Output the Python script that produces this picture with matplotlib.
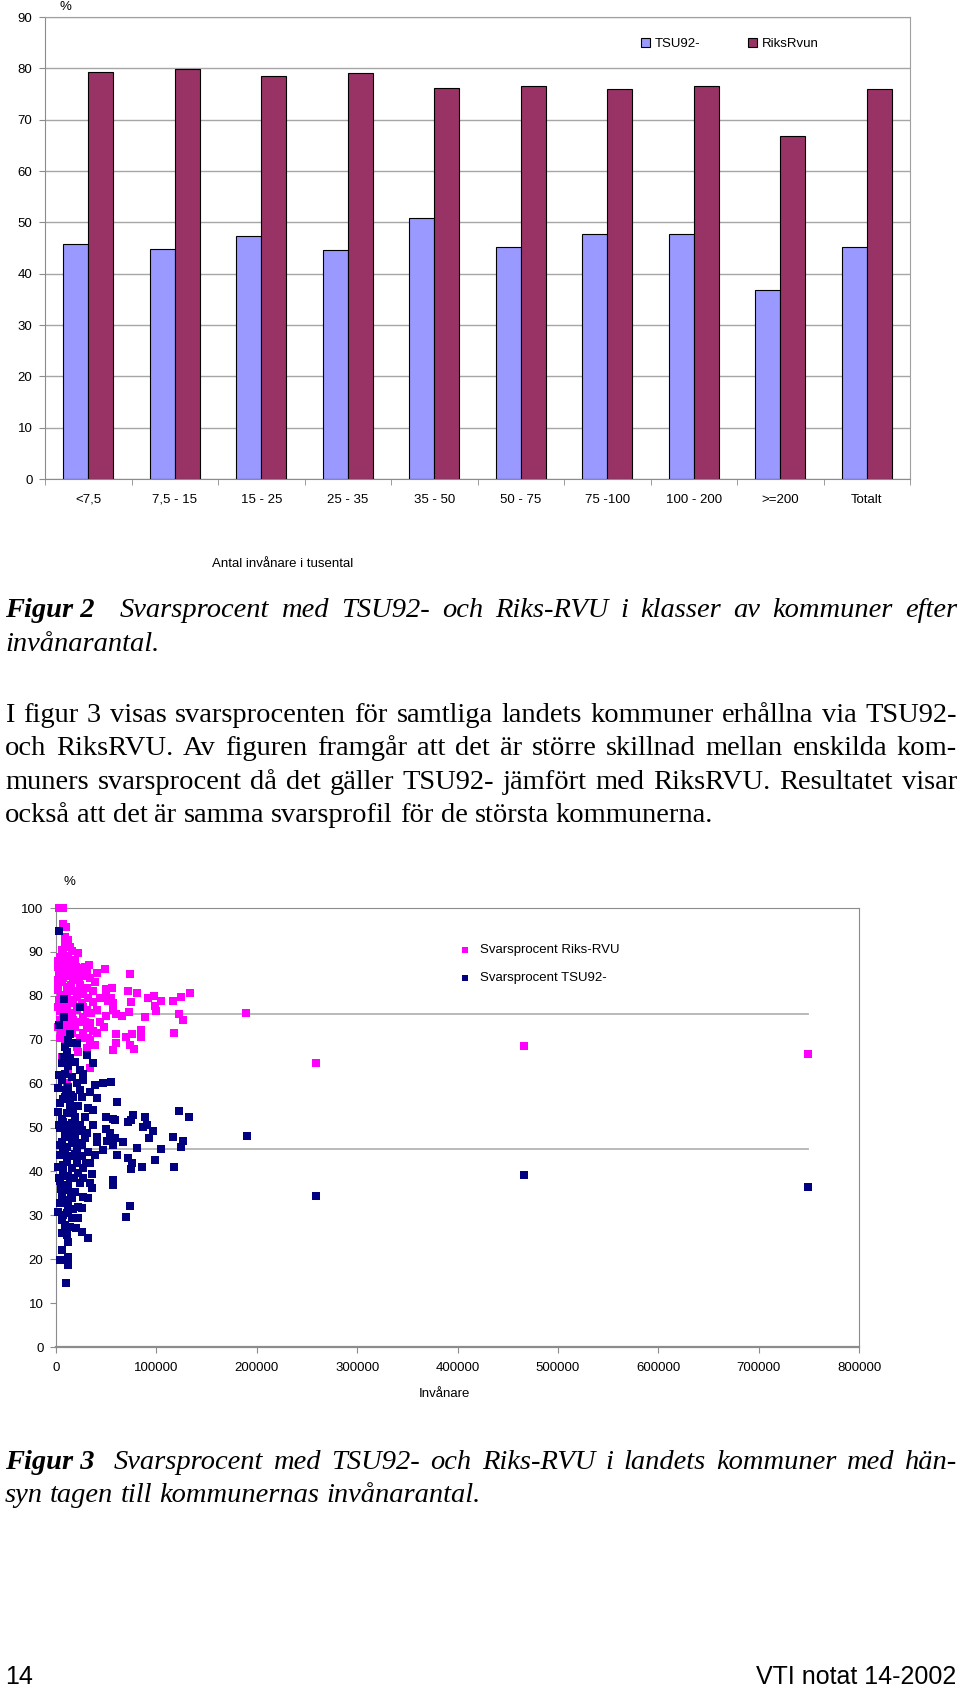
import numpy as np
import matplotlib
matplotlib.use('Agg')
import matplotlib.pyplot as plt
from matplotlib.patches import Patch

plt.rcParams['font.family'] = ['Liberation Sans', 'DejaVu Sans']

# Figur 2 - svarsprocent per kommunklass
categories = ['<7,5', '7,5 - 15', '15 - 25', '25 - 35', '35 - 50', '50 - 75',
              '75 -100', '100 - 200', '>=200', 'Totalt']
tsu_vals = [45.7, 44.9, 47.3, 44.7, 50.9, 45.1, 47.7, 47.7, 36.8, 45.1]
riks_vals = [79.3, 79.8, 78.5, 79.1, 76.2, 76.6, 76.0, 76.6, 66.8, 75.9]

# Figur 3 - kommuner (invånare i tusental, svarsprocent)
riks_x = [3.3, 7.3, 7.3, 10.0, 9.3, 12.3, 9.0, 13.9, 5.6, 15.6, 22.3, 4.0, 10.6, 18.9, 33.2,
          5.6, 2.3, 13.9, 23.9, 31.2, 40.5, 49.2, 9.0, 20.6, 4.0, 12.3, 27.2, 33.9, 17.3, 5.6,
          38.9, 2.3, 10.6, 23.9, 30.6, 49.8, 55.8, 73.7, 2.3, 15.6, 27.2, 37.2, 72.1, 81.0, 9.0,
          20.6, 32.2, 43.8, 54.8, 91.3, 97.3, 104.6, 116.6, 124.5, 133.5, 4.0, 13.9, 25.6, 37.2,
          49.8, 52.1, 57.1, 74.4, 98.6, 2.3, 10.6, 20.6, 30.6, 40.5, 57.1, 72.4, 99.3, 122.5,
          126.5, 189.3, 7.3, 15.6, 27.2, 49.8, 59.8, 65.8, 88.7, 4.0, 12.3, 23.9, 33.9, 43.8,
          2.3, 18.9, 30.6, 47.8, 7.3, 15.6, 27.2, 40.5, 59.8, 69.7, 75.7, 85.0, 85.0, 117.6,
          4.0, 12.3, 23.9, 33.9, 38.9, 59.8, 73.7, 77.7, 57.1, 9.0, 20.6, 30.6, 10.6, 22.3,
          5.6, 13.9, 7.3, 33.9, 12.3, 10.6,
          2.0, 3.0, 5.0, 6.5, 8.5, 11.0, 12.5, 14.5, 16.5, 18.0, 3.5, 6.0, 8.5, 11.5, 14.0,
          17.0, 19.5, 21.5, 4.5, 9.5, 25.0, 28.5, 1.5, 6.5, 12.0, 2.5, 7.5, 16.0, 19.5, 22.5,
          26.5, 29.0, 35.0, 36.5, 31.5,
          259.0, 466.0, 749.0]
riks_y = [100.0, 100.0, 96.4, 95.6, 93.5, 92.7, 91.6, 91.2, 90.4, 90.1, 89.7, 88.9, 88.5, 88.2,
          87.0, 87.4, 86.6, 86.6, 86.3, 85.9, 85.1, 86.0, 85.9, 85.5, 84.7, 84.4, 84.4, 84.0,
          83.6, 83.2, 83.2, 82.5, 82.1, 82.5, 81.7, 81.5, 81.7, 85.0, 81.3, 81.0, 80.6, 81.0,
          81.0, 80.6, 80.2, 79.8, 79.4, 79.4, 79.4, 79.6, 80.0, 78.8, 78.8, 79.8, 80.7, 78.7,
          78.3, 78.3, 78.7, 80.2, 78.9, 78.3, 78.7, 77.7, 77.5, 77.2, 76.8, 76.8, 76.8, 76.8,
          76.3, 76.5, 75.9, 74.5, 76.0, 76.0, 75.6, 75.2, 75.4, 75.9, 75.5, 75.2, 74.5, 74.1,
          74.1, 73.7, 74.1, 73.0, 73.0, 72.6, 73.0, 71.8, 71.5, 71.5, 71.5, 71.2, 70.7, 71.2,
          72.1, 70.7, 71.5, 70.3, 69.9, 70.3, 69.9, 68.8, 69.2, 68.9, 67.8, 67.7, 69.2, 68.4,
          68.0, 67.3, 67.3, 66.1, 65.4, 64.6, 63.5, 62.3, 60.1,
          88.0, 85.5, 79.5, 84.0, 87.0, 80.5, 86.0, 82.5, 79.0, 85.0, 76.5, 73.5, 75.0, 72.5,
          76.0, 74.5, 81.0, 77.5, 71.5, 70.5, 80.5, 86.5, 83.5, 89.5, 89.0, 79.0, 78.0, 88.0,
          86.5, 84.0, 77.5, 74.0, 76.0, 72.0, 70.5,
          64.7, 68.6, 66.7]
tsu_x = [3.3, 8.0, 23.9, 8.0, 3.3, 13.9, 12.3, 15.6, 9.0, 20.6, 10.6, 7.3, 13.9, 18.9, 30.6,
         5.6, 12.3, 23.9, 37.2, 27.2, 9.0, 15.6, 5.6, 20.6, 27.2, 2.3, 12.3, 23.9, 38.9, 47.2,
         54.5, 33.9, 9.0, 17.3, 25.6, 40.5, 60.4, 4.0, 13.9, 22.3, 32.2, 37.2, 2.3, 10.6, 18.9,
         28.9, 49.8, 57.1, 58.8, 77.0, 88.7, 132.8, 122.5, 7.3, 15.6, 23.9, 37.2, 72.1, 74.4,
         87.0, 90.3, 4.0, 12.3, 22.3, 30.6, 49.8, 53.8, 97.0, 10.6, 18.9, 28.9, 40.5, 58.8,
         93.0, 116.9, 126.2, 5.6, 15.6, 25.6, 40.5, 50.5, 56.5, 66.4, 7.3, 20.6, 32.2, 47.2,
         80.4, 104.6, 124.2, 4.0, 13.9, 25.6, 38.9, 60.4, 10.6, 20.6, 33.9, 72.1, 98.6, 4.0,
         15.6, 27.2, 75.4, 74.4, 85.3, 117.6, 7.3, 22.3, 35.5, 13.9, 27.2, 4.0, 12.3, 23.9,
         33.9, 57.1, 57.1, 9.0, 18.9, 35.5, 5.6, 15.6, 27.2, 32.2, 4.0, 12.3, 22.3, 25.6, 73.7,
         69.7, 2.3, 10.6, 15.6, 22.3, 5.6, 9.0, 13.9, 5.6, 10.6, 25.6, 32.2, 12.3, 5.6, 4.0,
         12.3, 12.3, 10.0,
         3.0, 6.0, 8.5, 11.0, 13.5, 16.5, 19.0, 21.0, 3.5, 6.5, 9.0, 12.0, 14.5, 17.5, 2.5,
         5.0, 8.0, 11.5, 7.0, 10.0, 15.0, 3.0, 18.5, 22.5, 26.0, 29.5, 2.0, 7.0, 17.0, 20.0,
         190.0, 259.0, 466.0, 749.0]
tsu_y = [94.8, 79.3, 77.4, 75.2, 73.4, 71.3, 69.9, 69.2, 68.4, 69.2, 67.3, 66.1, 65.8, 65.0,
         66.5, 64.6, 63.9, 63.1, 64.6, 62.3, 62.3, 61.6, 60.8, 60.1, 60.8, 58.9, 59.3, 58.5,
         59.6, 60.1, 60.3, 58.2, 57.0, 57.0, 57.0, 56.7, 55.7, 55.5, 55.1, 54.8, 54.4, 54.0,
         53.6, 53.2, 52.5, 52.5, 52.3, 51.9, 51.6, 52.9, 52.3, 52.3, 53.8, 51.3, 51.0, 50.6,
         50.6, 51.3, 51.7, 50.2, 50.6, 49.8, 49.4, 49.1, 48.7, 49.6, 48.7, 49.1, 47.9, 47.5,
         47.5, 47.9, 47.5, 47.5, 47.8, 47.0, 46.8, 46.4, 46.0, 46.8, 47.0, 46.0, 46.6, 45.3,
         44.9, 44.5, 44.9, 45.4, 45.0, 45.6, 43.7, 43.4, 43.4, 43.7, 43.7, 42.2, 41.8, 41.8,
         43.0, 42.7, 41.1, 40.7, 40.7, 41.8, 40.5, 40.9, 41.1, 39.6, 39.6, 39.4, 38.4, 38.4,
         37.7, 36.9, 37.3, 37.3, 38.0, 36.9, 35.8, 35.4, 36.2, 34.6, 33.9, 34.2, 33.9, 32.7,
         32.7, 32.0, 31.6, 32.1, 29.7, 30.8, 30.5, 29.3, 29.3, 29.0, 27.8, 27.4, 25.9, 25.5,
         26.3, 24.8, 24.0, 22.1, 19.8, 20.6, 18.7, 14.5,
         50.5, 52.0, 48.5, 45.5, 50.5, 53.5, 49.0, 43.0, 46.0, 41.5, 44.0, 39.0, 35.0, 38.5,
         38.5, 36.0, 33.5, 31.0, 56.5, 58.5, 57.5, 62.0, 44.0, 46.5, 49.5, 42.0, 41.0, 30.0,
         31.5, 27.0,
         48.1, 34.4, 39.2, 36.4]

W, H = 960, 1689
fig = plt.figure(figsize=(W / 100, H / 100), dpi=100)
fig.patch.set_facecolor('white')
grey = '#8c8c8c'

def fx(px):
    return px / W

def fy(py):
    return 1 - py / H

# ---------- Figur 2: stapeldiagram ----------
ax1 = fig.add_axes([fx(45), fy(479), 865 / W, 462 / H])
x = np.arange(len(categories))
ax1.bar(x - 0.145, tsu_vals, 0.29, color='#9999ff', edgecolor='black', linewidth=0.8, zorder=2)
ax1.bar(x + 0.145, riks_vals, 0.29, color='#993366', edgecolor='black', linewidth=0.8, zorder=2)
ax1.set_xlim(-0.5, len(categories) - 0.5)
ax1.set_ylim(0, 90)
ax1.set_yticks(range(0, 91, 10))
ax1.yaxis.grid(True, color='#a6a6a6', linewidth=1)
ax1.set_axisbelow(True)
ax1.set_xticks(x)
ax1.set_xticklabels(categories, fontsize=9.5)
for lab in ax1.get_xticklabels():
    lab.set_va('baseline')
ax1.set_xticks(np.arange(-0.5, len(categories), 1), minor=True)
ax1.tick_params(axis='x', which='major', length=0, pad=17)
ax1.tick_params(axis='x', which='minor', length=4, color=grey, direction='out')
ax1.tick_params(axis='y', length=4, color=grey, pad=5, labelsize=9.5)
for s in ax1.spines.values():
    s.set_color('#a0a0a0')
ax1.spines['left'].set_color(grey)
ax1.spines['bottom'].set_color(grey)
fig.text(fx(59), fy(7), '%', fontsize=9.5, ha='left', va='center')
fig.text(fx(283), fy(564), 'Antal invånare i tusental', fontsize=9.5, ha='center', va='center')
fig.legend(handles=[Patch(facecolor='#9999ff', edgecolor='black', linewidth=0.8),
                    Patch(facecolor='#993366', edgecolor='black', linewidth=0.8)],
           labels=['TSU92-', 'RiksRvun'], ncol=2, loc='center',
           bbox_to_anchor=(fx(730), fy(44)), frameon=False, fontsize=9.5,
           handlelength=0.7, handleheight=0.7, handletextpad=0.35, columnspacing=3.6)

# ---------- Figur 3: punktdiagram ----------
ax2 = fig.add_axes([fx(56), fy(1347), 803 / W, 439 / H])
rx = np.array(riks_x) * 1000
tx = np.array(tsu_x) * 1000
xmax = max(rx.max(), tx.max())
ax2.plot([0, xmax], [riks_vals[-1]] * 2, color='#b4b4b4', linewidth=1.3, zorder=1)
ax2.plot([0, xmax], [tsu_vals[-1]] * 2, color='#b4b4b4', linewidth=1.3, zorder=1)
ax2.scatter(rx, riks_y, s=30, marker='s', color='#ff00ff', linewidths=0, zorder=3,
            label='Svarsprocent Riks-RVU', clip_on=False)
ax2.scatter(tx, tsu_y, s=30, marker='s', color='#000080', linewidths=0, zorder=4,
            label='Svarsprocent TSU92-', clip_on=False)
ax2.set_xlim(0, 800000)
ax2.set_ylim(0, 100)
ax2.set_xticks(range(0, 800001, 100000))
ax2.set_xticklabels([str(v) for v in range(0, 800001, 100000)], fontsize=9.5)
ax2.set_yticks(range(0, 101, 10))
ax2.tick_params(axis='y', length=4, color=grey, pad=5, labelsize=9.5)
ax2.tick_params(axis='x', length=4, color=grey, pad=7)
for s in ax2.spines.values():
    s.set_color(grey)
ax2.spines['bottom'].set_linewidth(1.6)
ax2.legend(loc='upper left', bbox_to_anchor=(fx(452), fy(944)), bbox_transform=fig.transFigure,
           frameon=False, fontsize=9.5, handletextpad=0.1, labelspacing=1.2,
           markerscale=0.75, borderaxespad=0, borderpad=0)
fig.text(fx(69), fy(882), '%', fontsize=9.5, ha='center', va='center')
fig.text(fx(444), fy(1394), 'Invånare', fontsize=9.5, ha='center', va='center')

# ---------- löptext ----------
renderer = fig.canvas.get_renderer()
serif = 'Liberation Serif'
FS = 20.5

def line(y, words, x0, x1=957, style='normal', weight='normal', last=False):
    objs = [fig.text(0, fy(y), w, family=serif, fontsize=FS, style=style,
                     weight=weight, va='baseline', ha='left') for w in words]
    widths = [o.get_window_extent(renderer).width for o in objs]
    if last or len(words) == 1:
        gap = FS * 100 / 72 * 0.25
    else:
        gap = (x1 - x0 - sum(widths)) / (len(words) - 1)
    xp = x0
    for o, w in zip(objs, widths):
        o.set_x(fx(xp))
        xp += w + gap

fig.text(fx(5), fy(617), 'Figur 2', family=serif, fontsize=FS, style='italic',
         weight='bold', va='baseline')
line(617, 'Svarsprocent med TSU92- och Riks-RVU i klasser av kommuner efter'.split(), 120,
     style='italic')
line(651, ['invånarantal.'], 5, style='italic', last=True)

para = ['I figur 3 visas svarsprocenten för samtliga landets kommuner erhållna via TSU92-',
        'och RiksRVU. Av figuren framgår att det är större skillnad mellan enskilda kom-',
        'muners svarsprocent då det gäller TSU92- jämfört med RiksRVU. Resultatet visar',
        'också att det är samma svarsprofil för de största kommunerna.']
for i, txt in enumerate(para):
    line(722 + i * 33.3, txt.split(), 5, last=(i == len(para) - 1))

fig.text(fx(5), fy(1469), 'Figur 3', family=serif, fontsize=FS, style='italic',
         weight='bold', va='baseline')
line(1469, 'Svarsprocent med TSU92- och Riks-RVU i landets kommuner med hän-'.split(), 114,
     style='italic')
line(1502, 'syn tagen till kommunernas invånarantal.'.split(), 5, style='italic', last=True)

# sidfot
fig.text(fx(5), fy(1684), '14', fontsize=18, ha='left', va='baseline')
fig.text(fx(956), fy(1684), 'VTI notat 14-2002', fontsize=18, ha='right', va='baseline')

fig.savefig('out.png', dpi=100, facecolor='white')
